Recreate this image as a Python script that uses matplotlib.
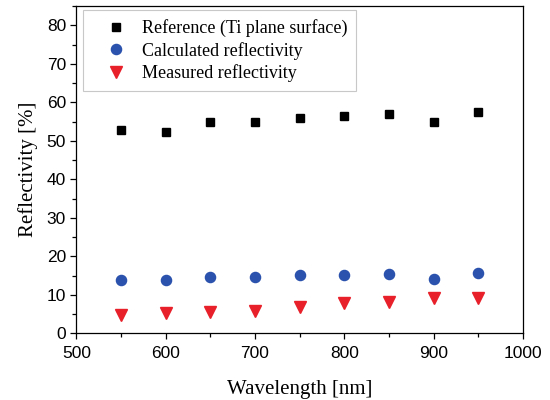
import matplotlib
matplotlib.use("Agg")
import matplotlib.pyplot as plt
from matplotlib.ticker import MultipleLocator

wavelength = [550, 600, 650, 700, 750, 800, 850, 900, 950]
reference = [52.9, 52.3, 54.75, 55.0, 55.9, 56.4, 57.0, 54.75, 57.5]
calculated = [13.8, 13.8, 14.6, 14.6, 15.1, 15.1, 15.5, 14.2, 15.6]
measured = [4.8, 5.2, 5.5, 5.9, 6.8, 8.0, 8.2, 9.1, 9.1]
labels = ["Reference (Ti plane surface)", "Calculated reflectivity", "Measured reflectivity"]

fig = plt.figure(figsize=(5.5, 4), dpi=100)
ax = fig.add_axes([0.139, 0.1667, 0.8115, 0.8183])

ax.plot(wavelength, reference, ls="none", marker="s", ms=6.3, color="black", label=labels[0])
ax.plot(wavelength, calculated, ls="none", marker="o", ms=7.3, color="#2b52ad", label=labels[1])
ax.plot(wavelength, measured, ls="none", marker="v", ms=8, color="#e8202a", label=labels[2])

ax.set_xlim(500, 1000)
ax.set_ylim(0, 85)
ax.xaxis.set_major_locator(MultipleLocator(100))
ax.xaxis.set_minor_locator(MultipleLocator(50))
ax.yaxis.set_major_locator(MultipleLocator(10))
ax.yaxis.set_minor_locator(MultipleLocator(5))
ax.tick_params(which="major", direction="out", length=4, width=0.9, labelsize=12.5)
ax.tick_params(axis="x", which="major", pad=5)
ax.tick_params(which="minor", direction="out", length=3, width=0.9)
for lab in ax.get_xticklabels() + ax.get_yticklabels():
    lab.set_fontfamily("Liberation Sans")
for s in ax.spines.values():
    s.set_linewidth(0.9)

ax.set_xlabel("Wavelength [nm]", family="Liberation Serif", fontsize=15, labelpad=14)
ax.set_ylabel("Reflectivity [%]", family="Liberation Serif", fontsize=15, labelpad=6)

leg = ax.legend(loc="upper left", bbox_to_anchor=(0.0146, 0.988), prop={"family": "Liberation Serif", "size": 13},
                frameon=True, fancybox=False, edgecolor="#c8c8c8", framealpha=1,
                handlelength=2.7, handletextpad=0.05, labelspacing=0.27, borderpad=0.5, borderaxespad=0)
leg.get_frame().set_linewidth(0.8)

fig.savefig("out.png", dpi=100)
